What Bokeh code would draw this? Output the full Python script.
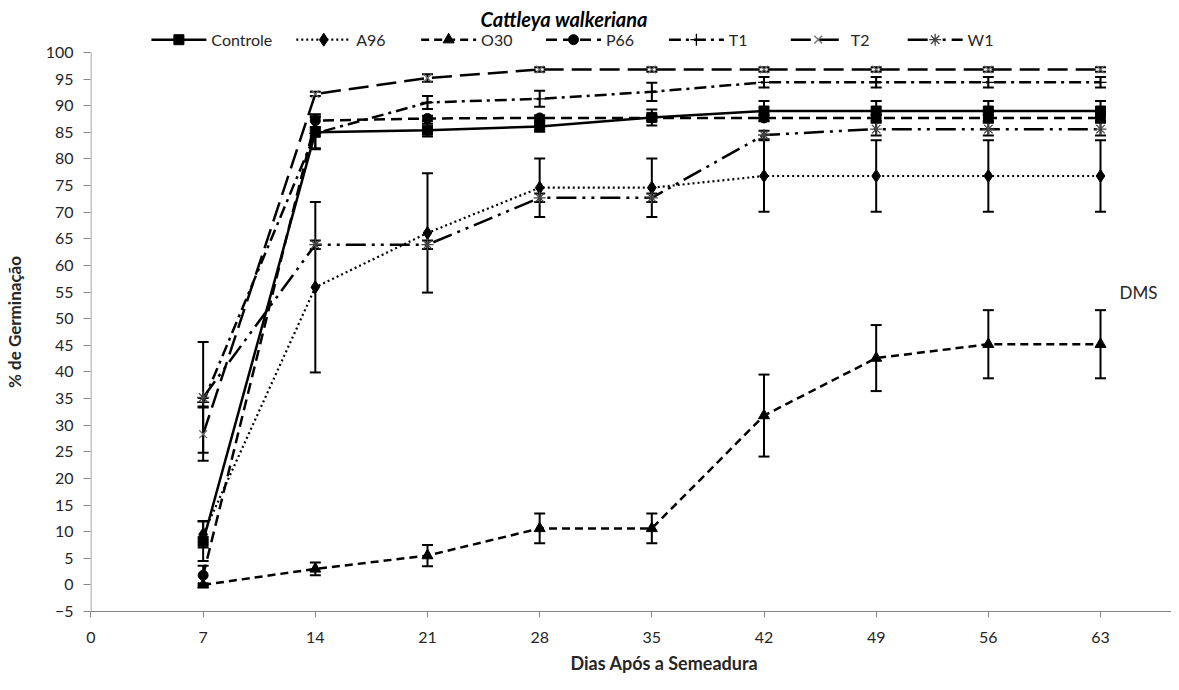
from bokeh.plotting import figure
from bokeh.models import Range1d, FixedTicker, Label, Title
from bokeh.embed import file_html
from bokeh.resources import INLINE

days = [7, 14, 21, 28, 35, 42, 49, 56, 63]
series_names = ["Controle", "A96", "O30", "P66", "T1", "T2", "W1"]
controle = [8.2, 85.0, 85.4, 86.1, 87.8, 89.0, 89.0, 89.0, 89.0]
controle_err = [3.7, 3.0, 1.2, 1.0, 1.5, 1.9, 1.9, 1.9, 1.9]
a96 = [9.5, 55.9, 66.1, 74.6, 74.6, 76.8, 76.8, 76.8, 76.8]
a96_err = [2.5, 16.0, 11.2, 5.5, 5.5, 6.7, 6.7, 6.7, 6.7]
o30 = [0.0, 3.0, 5.5, 10.6, 10.6, 31.8, 42.6, 45.2, 45.2]
o30_err = [0.3, 1.2, 2.0, 2.8, 2.8, 7.7, 6.2, 6.4, 6.4]
p66 = [1.8, 87.2, 87.6, 87.7, 87.7, 87.7, 87.7, 87.7, 87.7]
p66_err = [1.8, 1.2, 0.5, 0.5, 0.5, 0.5, 0.5, 0.5, 0.5]
t1 = [34.3, 84.8, 90.6, 91.3, 92.6, 94.4, 94.4, 94.4, 94.4]
t1_err = [0.8, 3.0, 1.2, 1.5, 1.7, 1.0, 1.0, 1.0, 1.0]
t2 = [28.3, 92.2, 95.2, 96.8, 96.8, 96.8, 96.8, 96.8, 96.8]
t2_err = [5.0, 0.4, 0.7, 0.4, 0.4, 0.4, 0.4, 0.4, 0.4]
w1 = [35.2, 63.9, 63.9, 72.7, 72.7, 84.5, 85.6, 85.6, 85.6]
w1_err = [10.4, 0.8, 0.8, 0.8, 0.8, 0.8, 1.2, 1.2, 1.2]

x_ticks = [0, 7, 14, 21, 28, 35, 42, 49, 56, 63]
y_ticks = list(range(-5, 101, 5))

FONT = "Lato"
TXT = "#262626"
AX = "#868686"

p = figure(width=1171, height=682, output_backend="svg", toolbar_location=None,
           title="Cattleya walkeriana",
           x_range=Range1d(-0.03, 67.43), y_range=Range1d(-5, 103.75),
           min_border_left=89, min_border_right=0, min_border_top=32, min_border_bottom=71)
p.outline_line_color = None
p.xgrid.visible = False
p.ygrid.visible = False

p.title.align = "left"
p.title.offset = 390
p.title.standoff = 4
p.title.text_font = FONT
p.title.text_font_size = "20px"
p.title.text_font_style = "bold italic"
p.title.text_color = "black"

p.xaxis.ticker = FixedTicker(ticks=x_ticks)
p.xaxis.axis_line_color = AX
p.xaxis.major_tick_line_color = AX
p.xaxis.major_tick_out = 6
p.xaxis.major_tick_in = 0
p.xaxis.minor_tick_line_color = None
p.xaxis.major_label_text_font = FONT
p.xaxis.major_label_text_font_size = "16px"
p.xaxis.major_label_text_color = TXT
p.xaxis.major_label_standoff = 14

xtitle = Title(text="Dias Após a Semeadura", align="left", offset=480, standoff=9,
               text_font=FONT, text_font_size="18px", text_font_style="bold", text_color=TXT)
p.add_layout(xtitle, "below")

p.yaxis.ticker = FixedTicker(ticks=y_ticks)
p.yaxis.axis_line_color = None
p.yaxis.major_tick_line_color = AX
p.yaxis.major_tick_out = 7
p.yaxis.major_tick_in = 0
p.yaxis.minor_tick_line_color = None
p.yaxis.major_label_text_font = FONT
p.yaxis.major_label_text_font_size = "16px"
p.yaxis.major_label_text_color = TXT
p.yaxis.major_label_standoff = 10
p.yaxis.axis_label = "% de Germinação"
p.yaxis.axis_label_text_font = FONT
p.yaxis.axis_label_text_font_size = "17px"
p.yaxis.axis_label_text_font_style = "bold"
p.yaxis.axis_label_text_color = TXT
p.yaxis.axis_label_standoff = 18

# y axis line from -5 to 100 only
p.segment(x0=[0], y0=[-5], x1=[0], y1=[100], line_color=AX, line_width=1)

styles = [
    (controle, controle_err, "solid", "square", 10, "black", 2.5),
    (a96, a96_err, "2 3", "diamond", 13, "black", 2.2),
    (o30, o30_err, "8 5", "triangle", 11, "black", 2.5),
    (p66, p66_err, "11 6", "circle", 10, "black", 2.5),
    (t1, t1_err, "12 5 3 5", "cross", 12, "black", 2.5),
    (t2, t2_err, "20 8", "x", 11, "#6e6e6e", 2.5),
    (w1, w1_err, "20 6 3 6 3 6", "asterisk", 12, "#444444", 2.5),
]

for vals, err, dash, mk, sz, mc, lw in styles:
    p.line(days, vals, line_color="black", line_width=lw, line_dash=dash)

for vals, err, dash, mk, sz, mc, lw in styles:
    lo = [v - e for v, e in zip(vals, err)]
    hi = [v + e for v, e in zip(vals, err)]
    p.segment(x0=days, y0=lo, x1=days, y1=hi, line_color="black", line_width=2)
    p.scatter(days, lo, marker="dash", size=11, line_color="black", line_width=2)
    p.scatter(days, hi, marker="dash", size=11, line_color="black", line_width=2)

def draw_marker(xs, ys, mk, sz, mc):
    if mk in ("x", "asterisk", "cross"):
        p.scatter(xs, ys, marker=mk, size=sz, line_color=mc, line_width=1.3, fill_color=None)
    else:
        p.scatter(xs, ys, marker=mk, size=sz, line_color="black", fill_color="black")

for vals, err, dash, mk, sz, mc, lw in styles:
    draw_marker(days, vals, mk, sz, mc)

# legend drawn in the top strip of the frame
px_per_day = 16.04
def dx(px):
    return (px - 97.5) / px_per_day

leg_y = 102.4
leg_starts = [158, 303, 428, 553, 676, 798, 915]
for name, st, x0 in zip(series_names, styles, leg_starts):
    vals, err, dash, mk, sz, mc, lw = st
    xa, xb = dx(x0), dx(x0 + 55)
    p.line([xa, xb], [leg_y, leg_y], line_color="black", line_width=lw, line_dash=dash)
    draw_marker([(xa + xb) / 2], [leg_y], mk, sz, mc)
    p.add_layout(Label(x=dx(x0 + 60), y=leg_y, text=name, text_font=FONT, text_font_size="16px",
                       text_color=TXT, text_baseline="middle", text_align="left"))

p.add_layout(Label(x=dx(1127), y=55, text="DMS", text_font=FONT,
                   text_font_size="17px", text_color=TXT,
                   text_align="left", text_baseline="middle"))

open("out.html", "w").write(file_html(p, INLINE))
